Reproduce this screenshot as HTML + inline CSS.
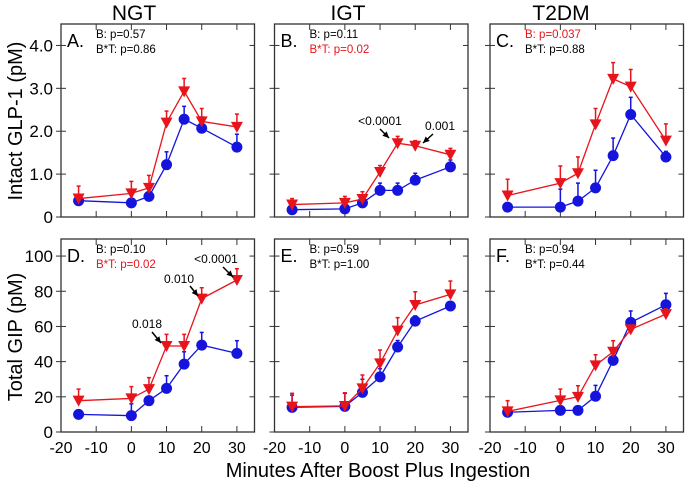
<!DOCTYPE html>
<html><head><meta charset="utf-8"><style>
body{margin:0;background:#fff;width:686px;height:485px;overflow:hidden;font-family:"Liberation Sans",sans-serif}
svg text{font-family:"Liberation Sans",sans-serif}
</style></head><body>
<svg id="chart" width="686" height="485" viewBox="0 0 686 485" xmlns="http://www.w3.org/2000/svg">
<text x="134" y="20" font-size="21" text-anchor="middle">NGT</text>
<text x="348" y="20" font-size="21" text-anchor="middle">IGT</text>
<text x="561" y="20" font-size="21" text-anchor="middle">T2DM</text>
<text transform="translate(22,121) rotate(-90)" font-size="20" text-anchor="middle">Intact GLP-1 (pM)</text>
<text transform="translate(22,337) rotate(-90)" font-size="20" text-anchor="middle">Total GIP (pM)</text>
<text x="378" y="477" font-size="20" text-anchor="middle">Minutes After Boost Plus Ingestion</text>
<g id="plots"></g>
</svg>
<script>
const times = [-15, 0, 5, 10, 15, 20, 30];
const xTicks = [-20, -10, 0, 10, 20, 30];
const glpTicks = [0, 1, 2, 3, 4];
const glpTickLabels = ["0", "1.0", "2.0", "3.0", "4.0"];
const gipTicks = [0, 20, 40, 60, 80, 100];
const gipTickLabels = ["0", "20", "40", "60", "80", "100"];
const blueA = [0.38, 0.33, 0.48, 1.22, 2.28, 2.07, 1.63];
const blueAErr = [0.42, 0.36, 0.52, 1.52, 2.58, 2.33, 1.93];
const redA = [0.43, 0.55, 0.68, 2.2, 2.93, 2.23, 2.1];
const redAErr = [0.72, 0.83, 0.97, 2.47, 3.23, 2.53, 2.4];
const blueB = [0.17, 0.19, 0.33, 0.62, 0.62, 0.86, 1.17];
const blueBErr = [0.2, 0.22, 0.38, 0.79, 0.79, 1.02, 1.33];
const redB = [0.29, 0.33, 0.42, 1.05, 1.72, 1.66, 1.45];
const redBErr = [0.43, 0.48, 0.59, 1.2, 1.88, 1.78, 1.6];
const blueC = [0.23, 0.23, 0.37, 0.68, 1.43, 2.39, 1.4];
const blueCErr = [0.25, 0.65, 0.79, 1.09, 1.84, 2.79, 1.53];
const redC = [0.5, 0.79, 1.02, 2.16, 3.22, 3.04, 1.78];
const redCErr = [0.88, 1.19, 1.4, 2.53, 3.6, 3.44, 2.17];
const blueD = [10, 9.3, 17.8, 24.8, 38.6, 49.4, 44.7];
const blueDErr = [11, 16, 19, 32, 45.6, 56.6, 51.9];
const redD = [17.8, 19.1, 24.4, 48.9, 48.9, 75.8, 86.4];
const redDErr = [24.4, 25.8, 30.9, 55.5, 55.5, 82, 92.8];
const blueE = [14, 14.6, 22.5, 31.3, 48.3, 63, 71.6];
const blueEErr = [21, 22, 30, 36, 52, 66, 74];
const redE = [14.4, 14.8, 24.8, 39, 57.6, 72.2, 78.2];
const redEErr = [22, 22.3, 32.4, 46.6, 65, 79.7, 85.8];
const blueF = [11.2, 12.3, 12.3, 20.3, 40.7, 62.3, 72.3];
const blueFErr = [12, 13, 13, 26.5, 42, 68.8, 78.8];
const redF = [11.7, 18, 20, 37.9, 45.6, 58.3, 67];
const redFErr = [17.8, 24.4, 26.3, 43.9, 51.9, 60.8, 70];

const NS = "http://www.w3.org/2000/svg";
const RED = "#e8141c", BLUE = "#1414dc";
const root = document.getElementById("plots");
function mk(tag, attrs, parent) {
  const e = document.createElementNS(NS, tag);
  for (const k in attrs) e.setAttribute(k, attrs[k]);
  (parent || root).appendChild(e);
  return e;
}
const panels = [
  {id:"a", L:61, T:24, ymax:4.5, ticks:glpTicks, tl:glpTickLabels, yl:true, xl:false, blue:blueA, be:blueAErr, red:redA, re:redAErr, letter:"A.", s1:["B: p=0.57","#000"], s2:["B*T: p=0.86","#000"]},
  {id:"b", L:274.5, T:24, ymax:4.5, ticks:glpTicks, tl:glpTickLabels, yl:false, xl:false, blue:blueB, be:blueBErr, red:redB, re:redBErr, letter:"B.", s1:["B: p=0.11","#000"], s2:["B*T: p=0.02",RED]},
  {id:"c", L:490, T:24, ymax:4.5, ticks:glpTicks, tl:glpTickLabels, yl:false, xl:false, blue:blueC, be:blueCErr, red:redC, re:redCErr, letter:"C.", s1:["B: p=0.037",RED], s2:["B*T: p=0.88","#000"]},
  {id:"d", L:61, T:239, ymax:109.7, ticks:gipTicks, tl:gipTickLabels, yl:true, xl:true, blue:blueD, be:blueDErr, red:redD, re:redDErr, letter:"D.", s1:["B: p=0.10","#000"], s2:["B*T: p=0.02",RED]},
  {id:"e", L:274.5, T:239, ymax:109.7, ticks:gipTicks, tl:gipTickLabels, yl:false, xl:true, blue:blueE, be:blueEErr, red:redE, re:redEErr, letter:"E.", s1:["B: p=0.59","#000"], s2:["B*T: p=1.00","#000"]},
  {id:"f", L:490, T:239, ymax:109.7, ticks:gipTicks, tl:gipTickLabels, yl:false, xl:true, blue:blueF, be:blueFErr, red:redF, re:redFErr, letter:"F.", s1:["B: p=0.94","#000"], s2:["B*T: p=0.44","#000"]}
];
const W = 193.5, H = 193;
panels.forEach(p => {
  const g = mk("g", {});
  
  
  const xs = v => p.L + (v + 20) / 55 * W;
  const ys = v => p.T + H - v / p.ymax * H;
  const fr = mk("rect", {x:p.L, y:p.T, width:W, height:H, fill:"none", stroke:"#333", "stroke-width":1.3}, g);
  
  
  xTicks.forEach(t => {
    mk("line", {x1:xs(t), x2:xs(t), y1:p.T+H, y2:p.T+H-6, stroke:"#333"}, g);
    mk("line", {x1:xs(t), x2:xs(t), y1:p.T, y2:p.T+6, stroke:"#333"}, g);
    if (p.xl) {
      const tx = mk("text", {x:xs(t), y:p.T+H+21, "font-size":16, "text-anchor":"middle"}, g);
      tx.textContent = t;
      
      
    }
  });
  p.ticks.forEach((t, i) => {
    mk("line", {x1:p.L-5, x2:p.L+5, y1:ys(t), y2:ys(t), stroke:"#333"}, g);
    mk("line", {x1:p.L+W-5, x2:p.L+W, y1:ys(t), y2:ys(t), stroke:"#333"}, g);
    if (p.yl) {
      const tx = mk("text", {x:p.L-8, y:ys(t)+6, "font-size":17, "text-anchor":"end"}, g);
      tx.textContent = p.tl[i];
      
      
    }
  });
  const lt = mk("text", {x:p.L+6, y:p.T+23, "font-size":18}, g);
  lt.textContent = p.letter;
  
  
  [[p.s1, 14], [p.s2, 29]].forEach(([s, dy]) => {
    const tx = mk("text", {x:p.L+35, y:p.T+dy, "font-size":11.5, fill:s[1]}, g);
    tx.textContent = s[0];
    
    
  });
  [[p.blue, p.be, BLUE, "blue"], [p.red, p.re, RED, "red"]].forEach(([vals, errs, col, nm]) => {
    vals.forEach((v, i) => {
      const x = xs(times[i]);
      mk("line", {x1:x, x2:x, y1:ys(v), y2:ys(errs[i]), stroke:col, "stroke-width":1.5}, g);
      mk("line", {x1:x-2, x2:x+2, y1:ys(errs[i]), y2:ys(errs[i]), stroke:col, "stroke-width":1.5}, g);
    });
    const pl = mk("polyline", {points: vals.map((v, i) => xs(times[i]) + "," + ys(v)).join(" "), fill:"none", stroke:col, "stroke-width":1.3}, g);
    
    
    vals.forEach((v, i) => {
      const x = xs(times[i]), y = ys(v);
      let m;
      if (nm === "blue") m = mk("circle", {cx:x, cy:y, r:5.5, fill:col}, g);
      else m = mk("polygon", {points:`${x-6},${y-5} ${x+6},${y-5} ${x},${y+6}`, fill:col}, g);
      
      
    });
  });
});
function ann(tx, x, y, x1, y1, x2, y2) {
  const t = mk("text", {x:x, y:y, "font-size":12, "text-anchor":"middle"});
  t.textContent = tx;
  
  
  const a = mk("line", {x1:x1, y1:y1, x2:x2, y2:y2, stroke:"#000", "stroke-width":1.5});
  
  
  const ang = Math.atan2(y2 - y1, x2 - x1);
  const p1 = [x2 - 7*Math.cos(ang-0.45), y2 - 7*Math.sin(ang-0.45)], p2 = [x2 - 7*Math.cos(ang+0.45), y2 - 7*Math.sin(ang+0.45)];
  mk("polygon", {points:`${x2},${y2} ${p1} ${p2}`, fill:"#000"});
}
ann("0.018", 147, 328, 152, 332, 161, 343);
ann("0.010", 179, 283, 190, 286, 198, 296);
ann("<0.0001", 216, 263, 223, 267, 233, 277);
ann("<0.0001", 380, 125, 380, 129, 389, 138);
ann("0.001", 440, 130, 433, 134, 423, 143);
</script>
</body></html>
